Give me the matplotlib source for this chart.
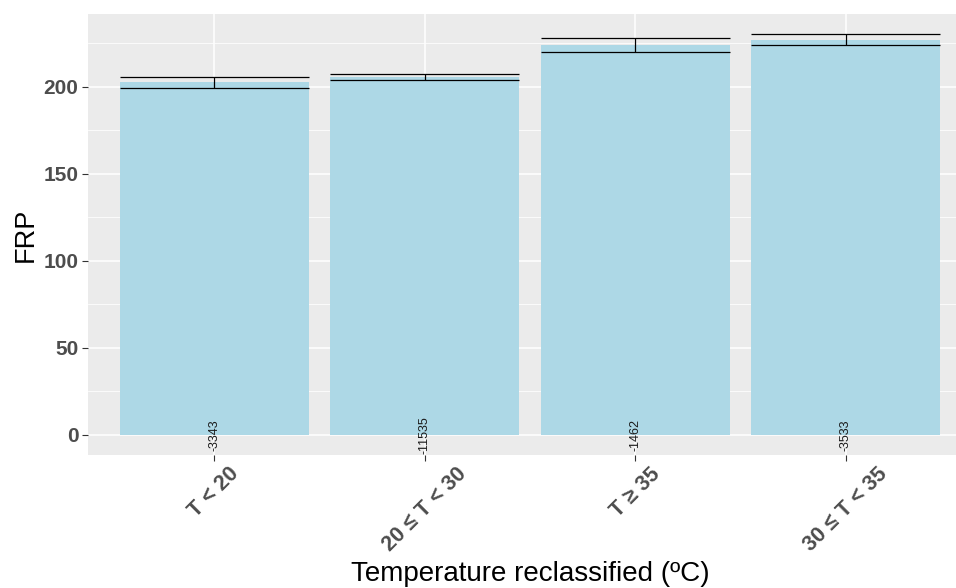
import numpy as np
import matplotlib
matplotlib.use("Agg")
import matplotlib.pyplot as plt
from matplotlib.ticker import MultipleLocator

plt.rcParams['font.family'] = ['Liberation Sans', 'DejaVu Sans']

# data
categories = ["T < 20", "20 ≤ T < 30", "T ≥ 35", "30 ≤ T < 35"]
frp_mean = [202.5, 205.7, 224.1, 227.1]
frp_err = [3.2, 1.8, 4.2, 3.0]
counts = [3343, 11535, 1462, 3533]

x = np.arange(len(categories))
width = 0.9

fig = plt.figure(figsize=(9.56, 5.88), dpi=100)
ax = fig.add_axes([88/956, 133/588, 884/956, 441/588])
ax.set_facecolor('#EBEBEB')

ax.bar(x, frp_mean, width=width, color='#ADD8E6', zorder=2)

lo = np.array(frp_mean) - np.array(frp_err)
hi = np.array(frp_mean) + np.array(frp_err)
ax.vlines(x, lo, hi, color='black', lw=0.9, zorder=3)
ax.hlines(lo, x - width/2, x + width/2, color='black', lw=0.9, zorder=3)
ax.hlines(hi, x - width/2, x + width/2, color='black', lw=0.9, zorder=3)

for xi, n in zip(x, counts):
    ax.text(xi, 0, "-" + str(n), rotation=90, ha='center', va='center',
            fontsize=9, color='#1a1a1a', zorder=4)

ax.set_xlim(-0.6, len(categories) - 0.4)
ax.set_ylim(-11.5, 241.8)
ax.yaxis.set_major_locator(MultipleLocator(50))
ax.yaxis.set_minor_locator(MultipleLocator(25))
ax.set_xticks(x)
ax.set_xticklabels(categories, rotation=45, ha='center', va='top',
                   fontsize=15.5, fontweight='bold', color='#4D4D4D')
for lab in ax.get_yticklabels():
    lab.set_fontsize(15)
    lab.set_fontweight('bold')
    lab.set_color('#4D4D4D')

ax.grid(which='major', color='white', lw=1.1, zorder=0)
ax.grid(which='minor', axis='y', color='white', lw=0.55, zorder=0)
ax.set_axisbelow(True)
ax.tick_params(which='major', color='#333333', length=4, width=0.8, pad=3)
ax.tick_params(axis='x', pad=2)
ax.tick_params(which='minor', length=0)
for s in ax.spines.values():
    s.set_visible(False)

ax.set_ylabel("FRP", fontsize=19.5, labelpad=3)
ax.set_xlabel("Temperature reclassified (ºC)", fontsize=20)
ax.xaxis.set_label_coords(0.5, -0.24)

fig.savefig("out.png", dpi=100)
